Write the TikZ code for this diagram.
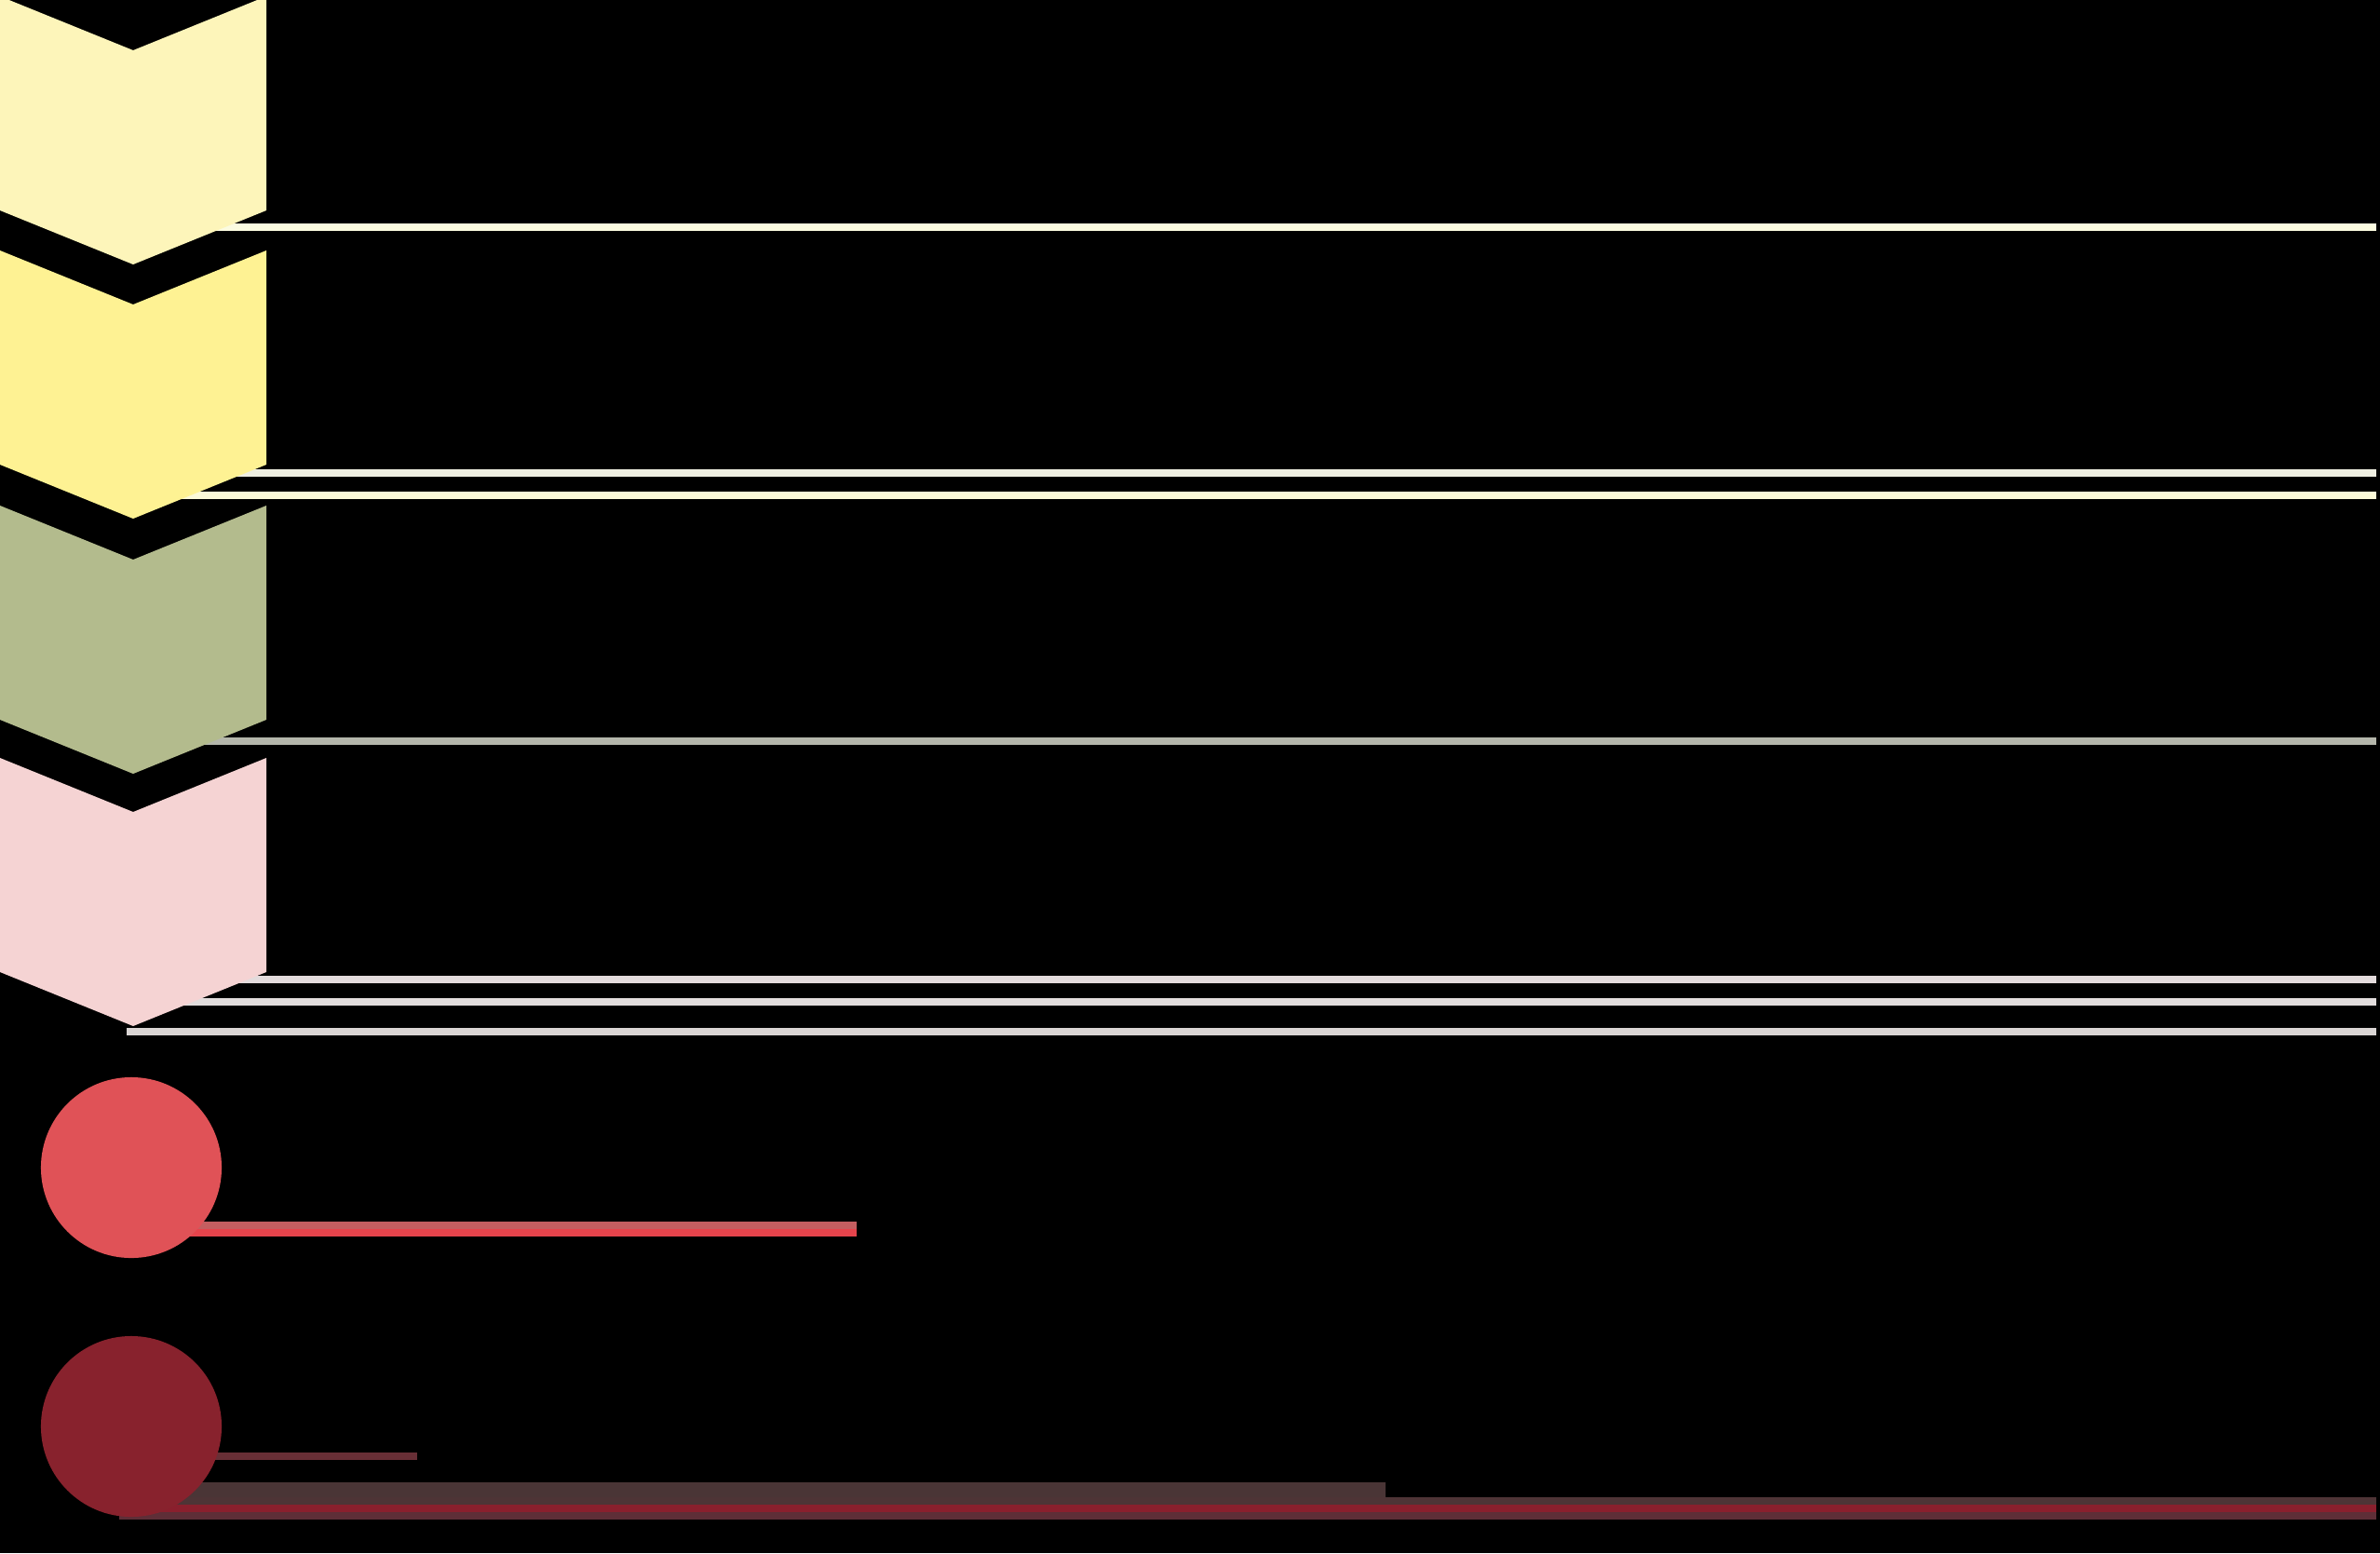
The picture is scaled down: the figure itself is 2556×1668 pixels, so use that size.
\documentclass[tikz,border=0pt]{standalone}
\usepackage{tikz}
\usetikzlibrary{positioning, calc}

\definecolor{chevA}{HTML}{FDF5BA}
\definecolor{chevB}{HTML}{FEF293}
\definecolor{chevC}{HTML}{B3BB8D}
\definecolor{chevD}{HTML}{F5D3D3}
\definecolor{ruleA}{HTML}{FBFBE0}
\definecolor{ruleB}{HTML}{EFEFE2}
\definecolor{ruleC}{HTML}{FBF9D8}
\definecolor{ruleD}{HTML}{B4B6AB}
\definecolor{ruleE}{HTML}{E3DBDC}
\definecolor{ruleF}{HTML}{E1DCDC}
\definecolor{ruleG}{HTML}{DAD5D4}
\definecolor{dotA}{HTML}{E05257}
\definecolor{dotB}{HTML}{88222D}
\definecolor{barA}{HTML}{C45E60}
\definecolor{barB}{HTML}{E5444C}
\definecolor{barC}{HTML}{682F36}
\definecolor{bandA}{HTML}{4A3536}
\definecolor{bandB}{HTML}{4E3436}
\definecolor{bandC}{HTML}{8A1F2D}
\definecolor{bandD}{HTML}{5E2E37}

\begin{document}
\begin{tikzpicture}[
    x=0.01cm, y=-0.01cm,
    rulebar/.style={draw=none},
    chev/.style={draw=none},
    dot/.style={circle, draw=none, minimum size=1.94cm, inner sep=0pt},
]
% ------------------------------------------------ background
\fill[black] (0,0) rectangle (2556,1668);
\useasboundingbox (0,0) rectangle (2556,1668);
% ------------------------------------------------ rules behind the chevrons
\foreach \y/\c in {240/ruleA, 504/ruleB, 528/ruleC, 792/ruleD, 1048/ruleE, 1072/ruleF, 1104/ruleG} {
  \fill[rulebar, \c] (136,\y) rectangle (2552,\y+8);
}
% ------------------------------------------------ chevrons
\foreach \t/\c [count=\i] in {-4/chevA, 269/chevB, 543/chevC, 814/chevD} {
  \fill[chev, \c] (0,\t) -- (143,\t+58) -- (286,\t) -- (286,\t+230)
    -- (143,\t+288) -- (0,\t+230) -- cycle;
}
% ------------------------------------------------ bars behind the dots
\fill[barA] (141,1312) rectangle (920,1320);
\fill[barB] (141,1320) rectangle (920,1328);
\fill[barC] (141,1560) rectangle (448,1568);
\fill[bandA] (128,1592) rectangle (1488,1608);
\fill[bandB] (128,1608) rectangle (2552,1616);
\fill[bandC] (128,1616) rectangle (2552,1624);
\fill[bandD] (128,1624) rectangle (2552,1632);
% ------------------------------------------------ dots
\node[dot, fill=dotA] (dotone) at (141,1254) {};
\node[dot, fill=dotB] (dottwo) at (141,1532) {};
\end{tikzpicture}
\end{document}
